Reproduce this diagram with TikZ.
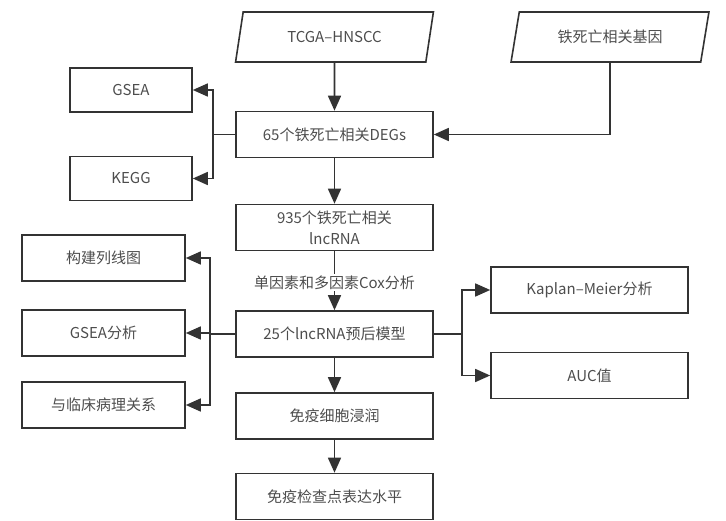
\documentclass[tikz,border=0pt]{standalone}
\usepackage{fontspec}
\setmainfont{Noto Sans CJK SC}
\usetikzlibrary{arrows.meta,shapes.geometric}
\definecolor{linegray}{HTML}{333333}
\definecolor{textgray}{HTML}{4D4D4D}

\begin{document}
\begin{tikzpicture}[x=1pt,y=-1pt,
	box/.style={draw=linegray,line width=1.6pt,text=textgray,font=\fontsize{15}{21}\selectfont,
		minimum width=197pt,minimum height=46pt,inner sep=0pt,align=center},
	databox/.style={box,trapezium,trapezium left angle=71,trapezium right angle=109,
		trapezium stretches=true,minimum width=198pt,minimum height=50pt},
	smallbox/.style={box,minimum width=122pt,minimum height=44pt},
	sidebox/.style={box,minimum width=163pt},
	link/.style={draw=linegray,line width=1.6pt},
	arr/.style={link,-{Triangle[length=15pt,width=13pt]}},
	steplabel/.style={fill=white,text=textgray,font=\fontsize{15}{18}\selectfont,inner sep=2pt}]
		\useasboundingbox (0,0) rectangle (726,521);
		% inputs
		\node[databox] (tcga) at (334.5,37) {TCGA–HNSCC};
		\node[databox] (gene) at (610,37) {铁死亡相关基因};
		% main column
		\node[box] (degs) at (334.5,134.5) {65个铁死亡相关DEGs};
		\node[box] (lnc) at (334.5,227.5) {935个铁死亡相关\\lncRNA};
		\node[box] (model) at (334.5,334) {25个lncRNA预后模型};
		\node[box] (immune) at (334.5,416) {免疫细胞浸润};
		\node[box] (check) at (334.5,496.5) {免疫检查点表达水平};
		% side boxes
		\node[smallbox] (gsea) at (131,90) {GSEA};
		\node[smallbox] (kegg) at (131,178.5) {KEGG};
		\node[sidebox] (nomo) at (103.5,258) {构建列线图};
		\node[sidebox] (gseafx) at (103.5,333) {GSEA分析};
		\node[sidebox] (clin) at (103.5,405) {与临床病理关系};
		\node[box] (km) at (589.5,290) {Kaplan–Meier分析};
		\node[box] (auc) at (589.5,375.5) {AUC值};
		\coordinate (splitA) at (213,134.5);
		\coordinate (splitB) at (210,334);
		\coordinate (splitC) at (462,334);
		% connectors
		\draw[arr] (tcga.south) -- (degs.north);
		\draw[arr] (gene.south) |- (degs.east);
		\draw[link] (degs.west) -- (splitA);
		\draw[arr] (splitA) |- (gsea.east);
		\draw[arr] (splitA) |- (kegg.east);
		\draw[arr] (degs) -- (lnc);
		\draw[arr] (lnc) -- node[steplabel,pos=0.53] (cox) {单因素和多因素Cox分析} (model);
		\draw[link] (model.west) -- (splitB);
		\draw[arr] (splitB) |- (nomo.east);
		\draw[arr] (splitB) |- (gseafx.east);
		\draw[arr] (splitB) |- (clin.east);
		\draw[link] (model.east) -- (splitC);
		\draw[arr] (splitC) |- (km.west);
		\draw[arr] (splitC) |- (auc.west);
		\draw[arr] (model) -- (immune);
		\draw[arr] (immune) -- (check);
\end{tikzpicture}
\end{document}
